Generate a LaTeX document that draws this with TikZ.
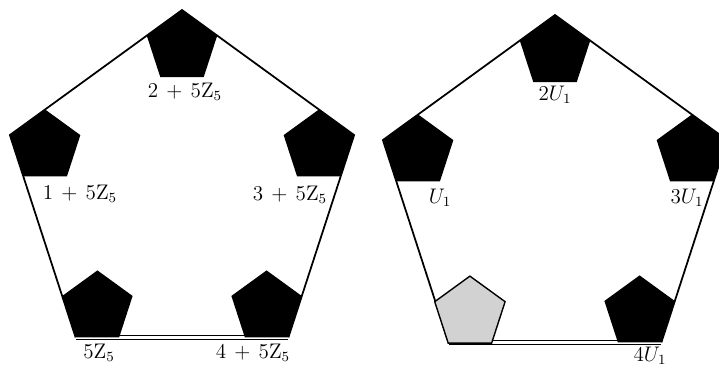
\documentclass[tikz,border=0pt]{standalone}
\usetikzlibrary{shapes.geometric,positioning,calc}

\begin{document}
\begin{tikzpicture}[x=0.02cm, y=0.02cm,
  bigpent/.style={regular polygon, regular polygon sides=5, minimum size=7.24cm,
                  inner sep=0pt, outer sep=0pt},
  cosetpent/.style={regular polygon, regular polygon sides=5, minimum size=1.48cm,
                    inner sep=0pt, outer sep=0pt, fill=black},
  idpent/.style={cosetpent, fill=gray!35, draw=black, line width=0.8pt},
  side/.style={draw, line width=1pt},
  baseside/.style={draw, double, double distance=2pt, line width=0.6pt},
  lbl/.style={font=\large, inner sep=1pt},
]
  \useasboundingbox (0,0) rectangle (719,371);

  % Left: the cosets k + 5Z
  \node[bigpent] (zbig) at (182,180) {};
  \draw[side] (zbig.corner 4) -- (zbig.corner 5) -- (zbig.corner 1)
              -- (zbig.corner 2) -- (zbig.corner 3);
  \draw[baseside] (zbig.corner 3) -- (zbig.corner 4);
  \foreach \k in {1,...,5}
    \node[cosetpent] (z\k) at ($(zbig.corner \k)!0.205!(zbig.center)$) {};

  \node[lbl] (zl2) at (185,279) {$2\,+\,5\mathrm{Z}_5$};
  \node[lbl] (zl1) at (80,177) {$1\,+\,5\mathrm{Z}_5$};
  \node[lbl] (zl3) at (290,176) {$3\,+\,5\mathrm{Z}_5$};
  \node[lbl] (zl0) at (99,18) {$5\mathrm{Z}_5$};
  \node[lbl] (zl4) at (253,18) {$4\,+\,5\mathrm{Z}_5$};

  % Right: the powers of U_1
  \node[bigpent] (ubig) at (555,175) {};
  \draw[side] (ubig.corner 4) -- (ubig.corner 5) -- (ubig.corner 1)
              -- (ubig.corner 2) -- (ubig.corner 3);
  \draw[baseside] (ubig.corner 3) -- (ubig.corner 4);
  \foreach \k in {1,2,4,5}
    \node[cosetpent] (u\k) at ($(ubig.corner \k)!0.205!(ubig.center)$) {};
  \node[idpent] (u3) at ($(ubig.corner 3)!0.2!(ubig.center)$) {};

  \node[lbl] (ul2) at (555,276) {$2U_1$};
  \node[lbl] (ul1) at (440,173) {$U_1$};
  \node[lbl] (ul3) at (687,173) {$3U_1$};
  \node[lbl] (ul4) at (650,15) {$4U_1$};

\end{tikzpicture}
\end{document}
